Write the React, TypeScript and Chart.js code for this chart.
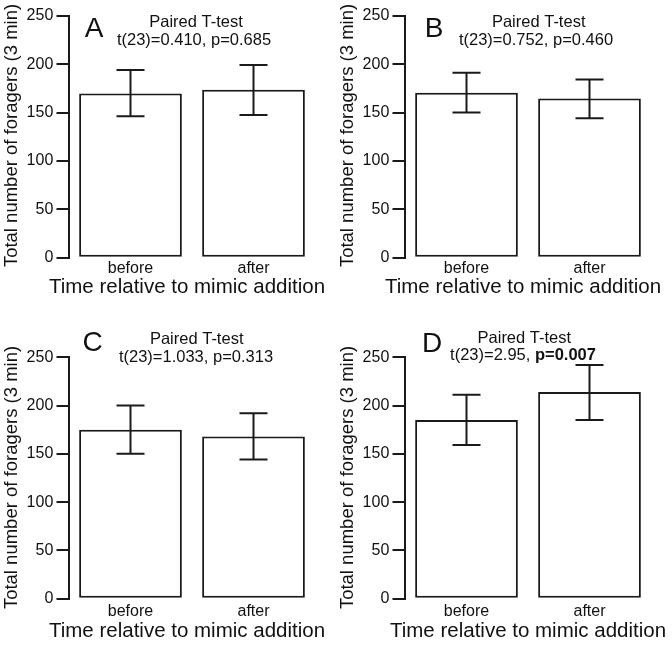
import React, { useEffect, useRef } from "react";
import { Chart, registerables } from "chart.js";

Chart.register(...registerables);

// ---------- data ----------
const categories = ["before", "after"];
const yTicks = [0, 50, 100, 150, 200, 250];
const panelLetters = ["A", "B", "C", "D"];
const tValues = ["0.410", "0.752", "1.033", "2.95"];
const pValues = ["0.685", "0.460", "0.313", "0.007"];
const significant = [false, false, false, true];

const meanA = [169.5, 173.5];
const lowA = [146, 147.5];
const highA = [194, 199];

const meanB = [170.5, 164.5];
const lowB = [150, 144];
const highB = [191, 184];

const meanC = [175, 168];
const lowC = [150, 144];
const highC = [200, 192];

const meanD = [185, 214];
const lowD = [159, 185];
const highD = [211, 242];

const yAxisTitle = "Total number of foragers (3 min)";
const xAxisTitle = "Time relative to mimic addition";
const testName = "Paired T-test";

// ---------- styling / layout ----------
const FONT = "'Liberation Sans', Arial, Helvetica, sans-serif";
const INK = "#111111";
const PANEL_W = 336;
const CHART_LEFT = 69;
const CHART_RIGHT = 315;

type RowLayout = {
  canvasH: number;
  chartTop: number;
  chartBottom: number;
  tickPad: number;
  xTitleBaseline: number;
  yTitleCenterY: number;
};

const topRow: RowLayout = {
  canvasH: 320,
  chartTop: 15.7,
  chartBottom: 257.7,
  tickPad: 1.2,
  xTitleBaseline: 293.3,
  yTitleCenterY: 135.5,
};
const bottomRow: RowLayout = {
  canvasH: 325,
  chartTop: 37.2,
  chartBottom: 278.7,
  tickPad: 2.9,
  xTitleBaseline: 317,
  yTitleCenterY: 157.5,
};

type TextLayout = {
  letterX: number;
  letterY: number;
  pairedX: number;
  pairedY: number;
  statX: number;
  statY: number;
  xTitleX: number;
};

const textA: TextLayout = { letterX: 94, letterY: 36.5, pairedX: 196, pairedY: 26.5, statX: 194, statY: 44.5, xTitleX: 187 };
const textB: TextLayout = { letterX: 98, letterY: 36.5, pairedX: 202.7, pairedY: 26.5, statX: 200, statY: 44.5, xTitleX: 187 };
const textC: TextLayout = { letterX: 92.5, letterY: 30.5, pairedX: 196.7, pairedY: 24, statX: 196, statY: 42, xTitleX: 187 };
const textD: TextLayout = { letterX: 96, letterY: 32, pairedX: 188.3, pairedY: 22.7, statX: 187, statY: 40, xTitleX: 192 };

type PanelProps = {
  idx: number;
  means: number[];
  lows: number[];
  highs: number[];
  row: RowLayout;
  text: TextLayout;
  left: number;
  top: number;
};

function Panel({ idx, means, lows, highs, row, text, left, top }: PanelProps) {
  const ref = useRef<HTMLCanvasElement | null>(null);

  useEffect(() => {
    const canvas = ref.current;
    if (!canvas) return;

    const errorBars = {
      id: "errorBars" + idx,
      afterDatasetsDraw(chart: any) {
        const ctx = chart.ctx;
        const xs = chart.scales.x;
        const ys = chart.scales.y;
        ctx.save();
        ctx.strokeStyle = "#1a1a1a";
        ctx.lineWidth = 2;
        const cap = 14;
        for (let i = 0; i < categories.length; i++) {
          const x = xs.getPixelForValue(i);
          const yl = ys.getPixelForValue(lows[i]);
          const yh = ys.getPixelForValue(highs[i]);
          ctx.beginPath();
          ctx.moveTo(x, yl);
          ctx.lineTo(x, yh);
          ctx.moveTo(x - cap, yh);
          ctx.lineTo(x + cap, yh);
          ctx.moveTo(x - cap, yl);
          ctx.lineTo(x + cap, yl);
          ctx.stroke();
        }
        ctx.restore();
      },
    };

    const texts = {
      id: "panelTexts" + idx,
      afterDraw(chart: any) {
        const ctx = chart.ctx;
        ctx.save();
        ctx.fillStyle = INK;
        // panel letter
        ctx.font = `28px ${FONT}`;
        ctx.textAlign = "center";
        ctx.textBaseline = "alphabetic";
        ctx.fillText(panelLetters[idx], text.letterX, text.letterY);
        // test name
        ctx.font = `16.5px ${FONT}`;
        ctx.fillText(testName, text.pairedX, text.pairedY);
        // stats line
        const part1 = `t(23)=${tValues[idx]}, `;
        const part2 = `p=${pValues[idx]}`;
        ctx.font = `16.5px ${FONT}`;
        const w1 = ctx.measureText(part1).width;
        const boldFont = significant[idx] ? `bold 16.5px ${FONT}` : `16.5px ${FONT}`;
        ctx.font = boldFont;
        const w2 = ctx.measureText(part2).width;
        const startX = text.statX - (w1 + w2) / 2;
        ctx.textAlign = "left";
        ctx.font = `16.5px ${FONT}`;
        ctx.fillText(part1, startX, text.statY);
        ctx.font = boldFont;
        ctx.fillText(part2, startX + w1, text.statY);
        // x axis title
        ctx.textAlign = "center";
        ctx.font = `20.5px ${FONT}`;
        ctx.fillText(xAxisTitle, text.xTitleX, row.xTitleBaseline);
        // y axis title
        ctx.translate(11.8, row.yTitleCenterY);
        ctx.rotate(-Math.PI / 2);
        ctx.textBaseline = "middle";
        ctx.font = `18.5px ${FONT}`;
        ctx.fillText(yAxisTitle, 0, 0);
        ctx.restore();
      },
    };

    const chart = new Chart(canvas, {
      type: "bar",
      data: {
        labels: categories,
        datasets: [
          {
            data: means,
            backgroundColor: "#ffffff",
            borderColor: "#1a1a1a",
            borderWidth: 2,
            borderSkipped: false,
            barPercentage: 0.835,
            categoryPercentage: 1,
          },
        ],
      },
      options: {
        responsive: false,
        maintainAspectRatio: false,
        animation: false,
        events: [],
        layout: {
          padding: { top: row.chartTop, left: 0, right: PANEL_W - CHART_RIGHT, bottom: 0 },
        },
        plugins: {
          legend: { display: false },
          tooltip: { enabled: false },
          title: { display: false },
        },
        scales: {
          x: {
            type: "category",
            grid: { display: false, drawTicks: false },
            border: { display: false },
            ticks: {
              color: INK,
              font: { family: FONT, size: 16 },
              padding: row.tickPad,
              maxRotation: 0,
              autoSkip: false,
            },
            afterFit: (s: any) => {
              s.height = row.canvasH - row.chartBottom;
            },
          },
          y: {
            min: 0,
            max: 250,
            afterBuildTicks: (s: any) => {
              s.ticks = yTicks.map((v) => ({ value: v }));
            },
            ticks: {
              color: INK,
              font: { family: FONT, size: 16 },
              padding: 3.2,
            },
            grid: {
              drawOnChartArea: false,
              drawTicks: true,
              tickLength: 12.5,
              color: "#1a1a1a",
              lineWidth: 2,
            },
            border: { display: true, color: "#1a1a1a", width: 2 },
            afterFit: (s: any) => {
              s.width = CHART_LEFT;
            },
          },
        },
      },
      plugins: [errorBars, texts],
    } as any);

    return () => {
      chart.destroy();
    };
  }, []);

  return (
    <canvas
      ref={ref}
      width={PANEL_W}
      height={row.canvasH}
      style={{ position: "absolute", left, top, width: PANEL_W, height: row.canvasH }}
    />
  );
}

export default function App() {
  return (
    <div style={{ position: "absolute", left: 0, top: 0, width: 672, height: 645, background: "#ffffff" }}>
      <Panel idx={0} means={meanA} lows={lowA} highs={highA} row={topRow} text={textA} left={0} top={0} />
      <Panel idx={1} means={meanB} lows={lowB} highs={highB} row={topRow} text={textB} left={336} top={0} />
      <Panel idx={2} means={meanC} lows={lowC} highs={highC} row={bottomRow} text={textC} left={0} top={320} />
      <Panel idx={3} means={meanD} lows={lowD} highs={highD} row={bottomRow} text={textD} left={336} top={320} />
    </div>
  );
}
